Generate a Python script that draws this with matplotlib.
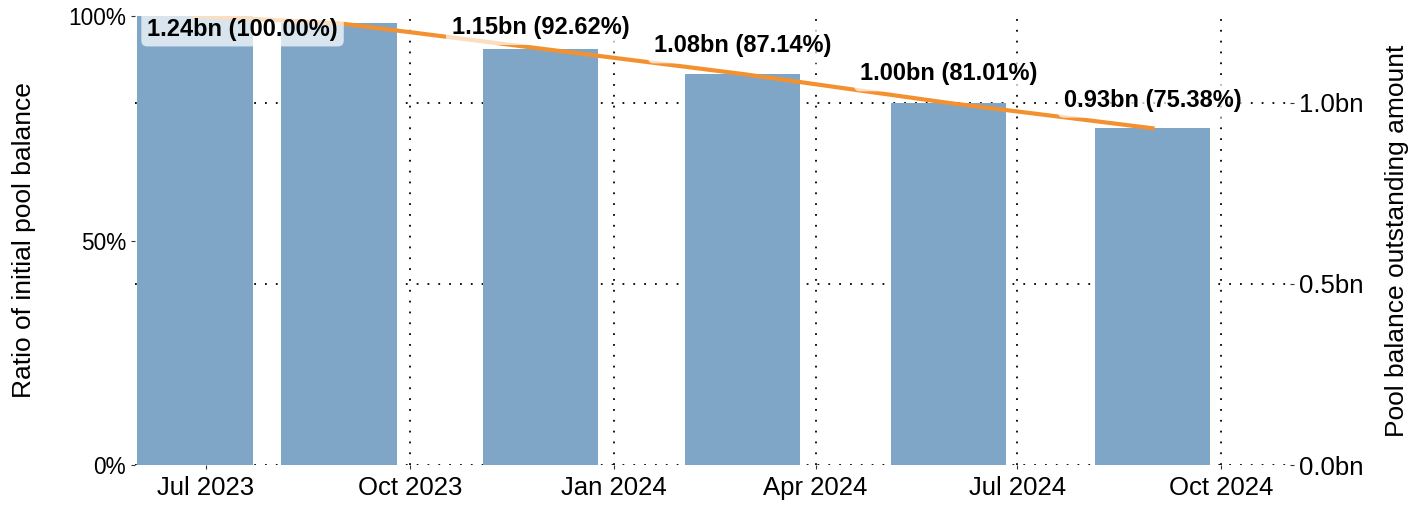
import pandas as pd
import matplotlib.pyplot as plt
import matplotlib.dates as mdates
from matplotlib.ticker import FuncFormatter

plt.rcParams['font.family'] = ['Liberation Sans', 'DejaVu Sans']

# --------- data
dates = pd.to_datetime(["2023-06-26", "2023-08-30", "2023-11-29",
                        "2024-02-28", "2024-05-31", "2024-08-31"])
ratio_pct = [100.00, 98.44, 92.62, 87.14, 81.01, 75.38]
amount_bn = [1.24, 1.22, 1.15, 1.08, 1.00, 0.93]
show_label = [True, False, True, True, True, True]

bar_color = "#7fa6c7"
line_color = "#f39130"
dots = (0, (1, 5))

fig = plt.figure(figsize=(14.26, 5.07), dpi=100)
ax = fig.add_axes([0.0947, 0.0828, 0.8099, 0.8856])
ax2 = ax.twinx()

# bars and line both on the amount axis so the grid sits under them
ax2.bar(dates, amount_bn, width=52, color=bar_color, zorder=2)
ax2.plot(dates, amount_bn, color=line_color, linewidth=3, zorder=3)

# labels: pushed inside the axes where they would run off the top
offsets = [None, None, -21, -28, -29, -28]
for i, (d, amt, pct) in enumerate(zip(dates, amount_bn, ratio_pct)):
    if not show_label[i]:
        continue
    txt = f"{amt:.2f}bn ({pct:.2f}%)"
    box = dict(boxstyle="round,pad=0.25", fc="white", ec="none", alpha=0.7)
    if i == 0:
        ax2.annotate(txt, xy=(d - pd.Timedelta(days=26), amt), xytext=(10, -13),
                     textcoords="offset pixels", ha="left", va="center",
                     fontsize=17, fontweight="bold", bbox=box, zorder=5)
    else:
        ax2.annotate(txt, xy=(d, amt), xytext=(0, -offsets[i]),
                     textcoords="offset pixels", ha="center", va="center",
                     fontsize=17, fontweight="bold", bbox=box, zorder=5)

ax.set_ylim(0, 100)
ax2.set_ylim(0, amount_bn[0])
ax.set_yticks([0, 50, 100])
ax.yaxis.set_major_formatter(FuncFormatter(lambda v, p: f"{v:.0f}%"))
ax2.set_yticks([0, 0.5, 1.0])
ax2.yaxis.set_major_formatter(FuncFormatter(lambda v, p: f"{v:.1f}bn"))

ax.set_xlim(pd.Timestamp("2023-05-30"), pd.Timestamp("2024-11-01"))
ax.xaxis.set_major_locator(mdates.MonthLocator(bymonth=[1, 4, 7, 10]))
ax.xaxis.set_major_formatter(mdates.DateFormatter("%b %Y"))

# vertical grid on the lower axes, horizontal on the amount axes
ax.grid(True, axis="x", color="black", linestyle=dots, linewidth=1.3)
ax2.set_axisbelow(True)
ax2.grid(True, axis="y", color="black", linestyle=dots, linewidth=1.3)

for a in (ax, ax2):
    for s in a.spines.values():
        s.set_visible(False)
    a.tick_params(axis="both", length=3, color="#333333")
ax.tick_params(axis="x", labelsize=18.5, pad=5)
ax.tick_params(axis="y", labelsize=16.3)
ax2.tick_params(axis="y", labelsize=18.5)

ax.set_ylabel("Ratio of initial pool balance", fontsize=19)
ax.yaxis.set_label_coords(-0.086, 0.5)
ax2.set_ylabel("Pool balance outstanding amount", fontsize=19)
ax2.yaxis.set_label_coords(1.082, 0.5)

fig.savefig("out.png", dpi=100)
